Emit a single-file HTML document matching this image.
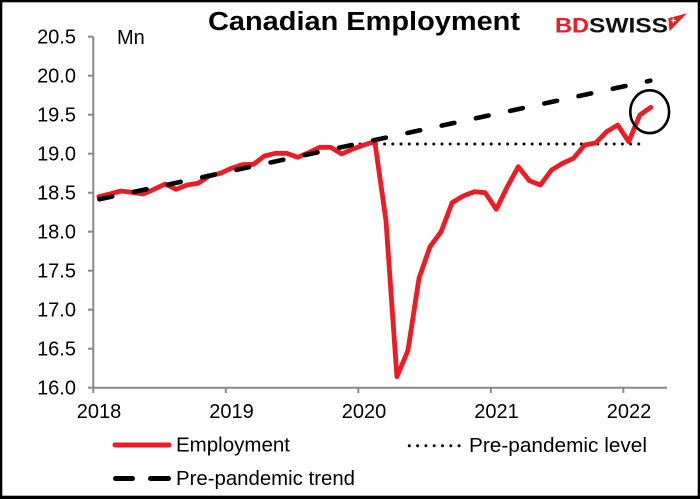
<!DOCTYPE html>
<html>
<head>
<meta charset="utf-8">
<style>
  html,body{margin:0;padding:0;background:#fff;}
  svg{display:block;}
  text{font-family:"Liberation Sans",Arial,sans-serif;}
</style>
</head>
<body>
<svg width="700" height="499" viewBox="0 0 700 499" xmlns="http://www.w3.org/2000/svg">
  <!-- frame -->
  <rect x="0" y="0" width="700" height="499" fill="#000"/>
  <rect x="2.3" y="2.3" width="695.4" height="493.4" fill="#fff"/>

  <!-- title -->
  <text x="208" y="30" font-size="25.5" font-weight="bold" fill="#000" textLength="312" lengthAdjust="spacingAndGlyphs">Canadian Employment</text>

  <!-- logo -->
  <text x="555" y="32.5" font-size="21" font-weight="bold" fill="#ED1C24" textLength="34" lengthAdjust="spacingAndGlyphs">BD</text>
  <text x="589" y="32.5" font-size="21" font-weight="bold" fill="#111" textLength="79" lengthAdjust="spacingAndGlyphs">SWISS</text>
  <polygon points="668.3,18.3 687,13.3 669.5,31.3" fill="#ED1C24"/>
  <path d="M673.3,18 v5 M670.8,20.5 h5" stroke="#fff" stroke-width="1.3"/>

  <!-- y axis -->
  <g stroke="#898989" stroke-width="2" fill="none">
    <line x1="93.3" y1="36.7" x2="93.3" y2="388.7"/>
    <line x1="88" y1="36.7" x2="93.3" y2="36.7"/>
    <line x1="88" y1="75.7" x2="93.3" y2="75.7"/>
    <line x1="88" y1="114.7" x2="93.3" y2="114.7"/>
    <line x1="88" y1="153.7" x2="93.3" y2="153.7"/>
    <line x1="88" y1="192.7" x2="93.3" y2="192.7"/>
    <line x1="88" y1="231.7" x2="93.3" y2="231.7"/>
    <line x1="88" y1="270.7" x2="93.3" y2="270.7"/>
    <line x1="88" y1="309.7" x2="93.3" y2="309.7"/>
    <line x1="88" y1="348.7" x2="93.3" y2="348.7"/>
    <line x1="88" y1="387.7" x2="93.3" y2="387.7"/>
    <!-- x axis -->
    <line x1="92.3" y1="387.7" x2="667" y2="387.7"/>
    <line x1="93.3" y1="387.7" x2="93.3" y2="393"/>
    <line x1="225.8" y1="387.7" x2="225.8" y2="393"/>
    <line x1="358.3" y1="387.7" x2="358.3" y2="393"/>
    <line x1="490.8" y1="387.7" x2="490.8" y2="393"/>
    <line x1="623.3" y1="387.7" x2="623.3" y2="393"/>
  </g>

  <!-- y labels -->
  <g font-size="20" fill="#000" text-anchor="end">
    <text x="76" y="43.7">20.5</text>
    <text x="76" y="82.7">20.0</text>
    <text x="76" y="121.7">19.5</text>
    <text x="76" y="160.7">19.0</text>
    <text x="76" y="199.7">18.5</text>
    <text x="76" y="238.7">18.0</text>
    <text x="76" y="277.7">17.5</text>
    <text x="76" y="316.7">17.0</text>
    <text x="76" y="355.7">16.5</text>
    <text x="76" y="394.7">16.0</text>
  </g>
  <text x="117" y="44" font-size="20" fill="#000">Mn</text>

  <!-- x labels -->
  <g font-size="20" fill="#000" text-anchor="middle">
    <text x="99" y="418">2018</text>
    <text x="231.5" y="418">2019</text>
    <text x="364" y="418">2020</text>
    <text x="496.5" y="418">2021</text>
    <text x="629" y="418">2022</text>
  </g>

  <!-- pre-pandemic level (dotted) -->
  <line x1="360" y1="144" x2="646" y2="144" stroke="#000" stroke-width="3" stroke-linecap="round" stroke-dasharray="0 8.2"/>

  <!-- employment -->
  <polyline fill="none" stroke="#ED1C24" stroke-width="4.8" stroke-linejoin="round" stroke-linecap="round"
    points="98.8,196.7 109.9,194 120.9,191 131.9,192.3 143,194 154,189.3 165.1,184 176.1,189.3 187.1,185 198.2,183.3 209.2,176 220.3,173.3 231.3,168.3 242.3,164.7 253.4,164.3 264.4,156 275.5,153.3 286.5,153.3 297.5,157.3 308.6,152.7 319.6,147.3 330.7,147.3 341.7,154 352.7,149 363.8,145 374.8,141.7 385.9,220 396.9,376.7 407.9,350.7 419,278.3 430,246.7 441.1,231.7 452.1,202.7 463.1,196 474.2,191.7 485.2,192.7 496.3,209.3 507.3,186.7 518.3,166.7 529.4,180.7 540.4,185 551.5,170 562.5,163.3 573.5,158.3 584.6,145 595.6,143 606.7,131.7 617.7,125 628.7,141.7 639.8,115 650.8,107.3"/>

  <!-- pre-pandemic trend (dashed) -->
  <line x1="99.5" y1="199.3" x2="650.3" y2="80.7" stroke="#000" stroke-width="4.6" stroke-linecap="round" stroke-dasharray="13 22"/>

  <!-- circle -->
  <ellipse cx="649.7" cy="111.7" rx="19.4" ry="21.4" fill="none" stroke="#000" stroke-width="2.6"/>

  <!-- legend -->
  <line x1="115" y1="445" x2="169" y2="445" stroke="#ED1C24" stroke-width="5" stroke-linecap="round"/>
  <text x="176" y="451.7" font-size="20" fill="#000" textLength="114" lengthAdjust="spacingAndGlyphs">Employment</text>

  <line x1="409.3" y1="445.7" x2="460" y2="445.7" stroke="#000" stroke-width="3" stroke-linecap="round" stroke-dasharray="0 8.3"/>
  <text x="469" y="452" font-size="20" fill="#000" textLength="178" lengthAdjust="spacingAndGlyphs">Pre-pandemic level</text>

  <line x1="115.5" y1="478.5" x2="132.5" y2="478.5" stroke="#000" stroke-width="5" stroke-linecap="round"/>
  <line x1="150.5" y1="478.5" x2="168.5" y2="478.5" stroke="#000" stroke-width="5" stroke-linecap="round"/>
  <text x="176" y="485" font-size="20" fill="#000" textLength="179" lengthAdjust="spacingAndGlyphs">Pre-pandemic trend</text>
</svg>
</body>
</html>
